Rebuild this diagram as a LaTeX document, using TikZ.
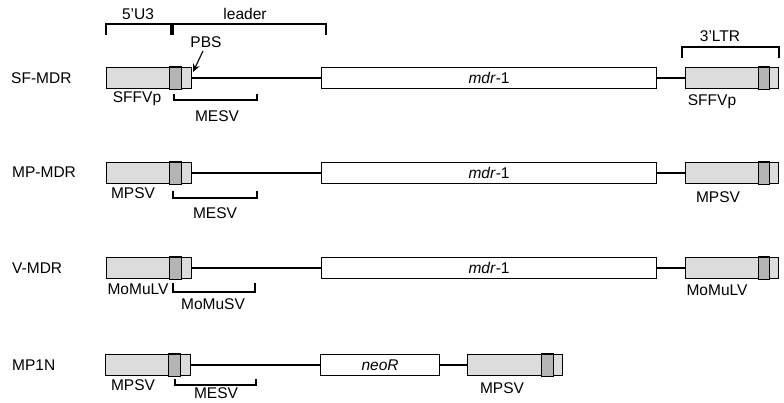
\documentclass[tikz,border=0pt]{standalone}
\usepackage{fontspec}
\setmainfont{Liberation Sans}
\usetikzlibrary{arrows.meta}
\definecolor{ltrgray}{HTML}{DCDCDC}
\definecolor{ltrdark}{HTML}{B4B4B4}
\tikzset{
  lbl/.style={font=\fontsize{15.5}{17}\selectfont, inner sep=0pt},
  ltrbox/.style={draw, fill=ltrgray, line width=1.1pt, minimum height=21pt, inner sep=0pt, anchor=west},
  genebox/.style={draw, fill=white, line width=1.1pt, minimum height=21pt, inner sep=0pt, anchor=west, font=\fontsize{15.5}{17}\selectfont},
  conn/.style={line width=1.1pt},
  brk/.style={line width=1.1pt},
}
\newcommand{\darkband}[3]{%
  \draw[fill=ltrdark, line width=1.1pt] ([xshift=-#2pt]#1.north east) rectangle ([xshift=-#3pt]#1.south east);}
\begin{document}
\begin{tikzpicture}[x=1pt,y=-1pt]
\useasboundingbox (0,0) rectangle (784,402);
\clip (0,0) rectangle (784,402);

% top brackets
\draw[brk] (106,35) -- (106,24) -- (171,24) -- (171,35);
\draw[brk] (173,35) -- (173,24) -- (326,24) -- (326,35);
\draw[brk] (682,58) -- (682,47) -- (779,47) -- (779,58);
\node[lbl] (t5u3) at (138,14) {5'U3};
\node[lbl] (tlead) at (245,14) {leader};
\node[lbl] (t3ltr) at (720,36) {3'LTR};

% ---- Row 1: SF-MDR
\node[lbl, anchor=west] (n1) at (11,78) {SF-MDR};
\node[ltrbox, minimum width=85pt] (l1) at (106,78) {};
\darkband{l1}{23}{11}
\node[genebox, minimum width=335pt] (g1) at (321,78) {\textit{mdr}-1};
\node[ltrbox, minimum width=93pt] (r1) at (685,78) {};
\darkband{r1}{21}{10}
\draw[conn] (l1.east) -- (g1.west);
\draw[conn] (g1.east) -- (r1.west);
\node[lbl] (pbs) at (206,42) {PBS};
\coordinate (pbsend) at (193,72);
\draw[line width=1.1pt, -{Stealth[length=8pt,width=7pt]}] (203,51) -- (pbsend);
\node[lbl] (s1l) at (137,99) {SFFVp};
\node[lbl] (s1r) at (712,102) {SFFVp};
\draw[brk] (174,94) -- (174,100) -- (257,100) -- (257,94);
\node[lbl] (m1) at (217,116) {MESV};

% ---- Row 2: MP-MDR
\node[lbl, anchor=west] (n2) at (12,172) {MP-MDR};
\node[ltrbox, minimum width=85pt] (l2) at (106,173) {};
\darkband{l2}{23}{11}
\node[genebox, minimum width=335pt] (g2) at (321,173) {\textit{mdr}-1};
\node[ltrbox, minimum width=93pt] (r2) at (685,173) {};
\darkband{r2}{21}{10}
\draw[conn] (l2.east) -- (g2.west);
\draw[conn] (g2.east) -- (r2.west);
\node[lbl] (s2l) at (133,193) {MPSV};
\node[lbl] (s2r) at (718,197) {MPSV};
\draw[brk] (173,191) -- (173,198) -- (257,198) -- (257,191);
\node[lbl] (m2) at (215,213) {MESV};

% ---- Row 3: V-MDR
\node[lbl, anchor=west] (n3) at (12,268) {V-MDR};
\node[ltrbox, minimum width=85pt] (l3) at (106,268) {};
\darkband{l3}{23}{11}
\node[genebox, minimum width=335pt] (g3) at (321,268) {\textit{mdr}-1};
\node[ltrbox, minimum width=93pt] (r3) at (685,268) {};
\darkband{r3}{21}{10}
\draw[conn] (l3.east) -- (g3.west);
\draw[conn] (g3.east) -- (r3.west);
\node[lbl] (s3l) at (138,289) {MoMuLV};
\node[lbl] (s3r) at (717,290) {MoMuLV};
\draw[brk] (173,283) -- (173,292) -- (255,292) -- (255,283);
\node[lbl] (m3) at (213,304) {MoMuSV};

% ---- Row 4: MP1N
\node[lbl, anchor=west] (n4) at (12,365) {MP1N};
\node[ltrbox, minimum width=85pt] (l4) at (105,365) {};
\darkband{l4}{23}{11}
\node[genebox, minimum width=119pt] (g4) at (320,365) {\textit{neoR}};
\node[ltrbox, minimum width=95pt] (r4) at (467,365) {};
\darkband{r4}{22}{10}
\draw[conn] (l4.east) -- (g4.west);
\draw[conn] (g4.east) -- (r4.west);
\node[lbl] (s4l) at (133,385) {MPSV};
\node[lbl] (s4r) at (502,388) {MPSV};
\draw[brk] (175,379) -- (175,385) -- (256,385) -- (256,379);
\node[lbl] (m4) at (216,393) {MESV};
\end{tikzpicture}
\end{document}
